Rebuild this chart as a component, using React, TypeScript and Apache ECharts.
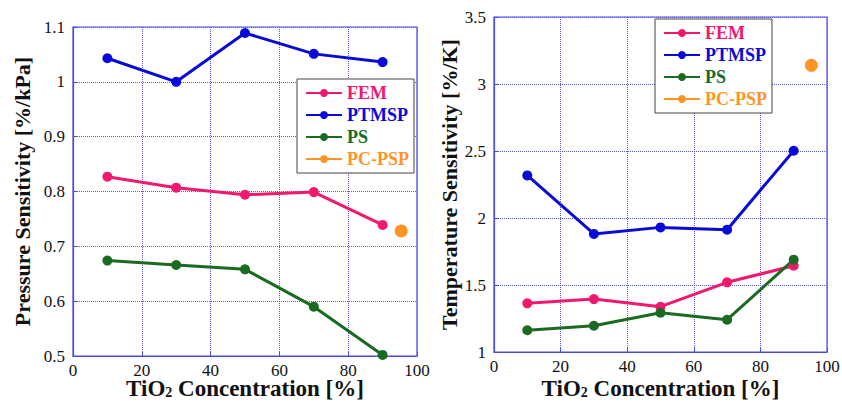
import React, { useEffect, useRef } from "react";
import * as echarts from "echarts";

const xValues = [10, 30, 50, 70, 90];
const seriesNames = ["FEM", "PTMSP", "PS", "PC-PSP"];
const seriesColors = ["#f2186e", "#0a0ad8", "#1b6a22", "#ff9426"];

const pressureFEM = [0.827, 0.807, 0.794, 0.799, 0.739];
const pressurePTMSP = [1.043, 1.0, 1.089, 1.051, 1.036];
const pressurePS = [0.674, 0.666, 0.658, 0.59, 0.502];
const pressurePCPSP: [number, number] = [95.4, 0.728];

const tempFEM = [1.363, 1.395, 1.338, 1.52, 1.644];
const tempPTMSP = [2.318, 1.881, 1.93, 1.913, 2.502];
const tempPS = [1.162, 1.196, 1.293, 1.241, 1.689];
const tempPCPSP: [number, number] = [95.3, 3.139];

const xTicks = [0, 20, 40, 60, 80, 100];

const pair = (ys: number[]) => ys.map((y, i) => [xValues[i], y]);

const App: React.FC = () => {
  const ref = useRef<HTMLDivElement>(null);
  useEffect(() => {
    document.body.style.margin = "0";
    if (!ref.current) return;
    const chart = echarts.init(ref.current, undefined, { renderer: "svg" });
    const font = "Liberation Serif";
    const frame = "#4a4ae8";
    const gridLine = { show: true, lineStyle: { color: "#5a5af0", type: "dotted" as const, width: 1 } };
    const axisLabel = { color: "#111", fontFamily: font, fontSize: 17 };
    const nameStyle = {
      color: "#111",
      fontFamily: font,
      fontSize: 23,
      fontWeight: "bold" as const,
      rich: {
        b: { fontSize: 23, lineHeight: 24, fontFamily: font, fontWeight: "bold" as const, color: "#111" },
        s: { fontSize: 14, fontFamily: font, fontWeight: "bold" as const, color: "#111", padding: [9, 0, 0, 0] },
      },
    };
    const xAxisBase = (gridIndex: number, gap: number) => ({
      type: "value" as const,
      gridIndex,
      min: 0,
      max: 100,
      interval: 20,
      name: "{b|TiO}{s|2}{b| Concentration [%]}",
      nameLocation: "middle" as const,
      nameGap: gap,
      nameMoveOverlap: false,
      nameTextStyle: nameStyle,
      axisLine: { show: true, lineStyle: { color: frame, width: 1.2 } },
      axisTick: { show: true, inside: true, length: 4, lineStyle: { color: frame } },
      axisLabel: { ...axisLabel, margin: 6, formatter: (v: number) => (xTicks.includes(v) ? String(v) : "") },
      splitLine: gridLine,
    });
    const legendData = seriesNames.map((n, i) => ({
      name: n,
      textStyle: { color: seriesColors[i], fontFamily: font, fontWeight: "bold" as const, fontSize: 18 },
    }));
    const legendBase = {
      orient: "vertical" as const,
      data: legendData,
      itemWidth: 36,
      itemHeight: 10,
      itemGap: 4,
      padding: [5, 5, 5, 8],
      borderColor: "#444",
      borderWidth: 1,
      backgroundColor: "#fff",
      selectedMode: false,
    };
    const mk = (name: string, idx: number, data: number[][], color: string, size: number) => ({
      type: "line" as const,
      name,
      xAxisIndex: idx,
      yAxisIndex: idx,
      data,
      symbol: "circle",
      symbolSize: size,
      showSymbol: true,
      lineStyle: { color, width: 3 },
      itemStyle: { color },
      z: 3,
    });
    const yName = (gridIndex: number, min: number, max: number, interval: number, name: string, gap: number) => ({
      type: "value" as const,
      gridIndex,
      min,
      max,
      interval,
      name,
      nameLocation: "middle" as const,
      nameGap: gap,
      nameTextStyle: { color: "#111", fontFamily: font, fontSize: 22, fontWeight: "bold" as const },
      axisLine: { show: true, lineStyle: { color: frame, width: 1.2 } },
      axisTick: { show: true, inside: true, length: 4, lineStyle: { color: frame } },
      axisLabel: { ...axisLabel, margin: 8 },
      splitLine: gridLine,
    });
    chart.setOption({
      animation: false,
      backgroundColor: "#fff",
      textStyle: { fontFamily: font },
      grid: [
        { left: 73, right: 425, top: 27, bottom: 50, outerBoundsMode: "none", containLabel: false, show: true, borderColor: frame, borderWidth: 1.2, backgroundColor: "transparent" },
        { left: 494, right: 15, top: 17, bottom: 54, outerBoundsMode: "none", containLabel: false, show: true, borderColor: frame, borderWidth: 1.2, backgroundColor: "transparent" },
      ],
      legend: [
        { ...legendBase, left: 297, top: 79 },
        { ...legendBase, left: 655, top: 19 },
      ],
      xAxis: [xAxisBase(0, 20), xAxisBase(1, 24)],
      yAxis: [
        yName(0, 0.5, 1.1, 0.1, "Pressure Sensitivity [%/kPa]", 40),
        yName(1, 1, 3.5, 0.5, "Temperature Sensitivity [%/K]", 34),
      ],
      series: [
        mk("FEM", 0, pair(pressureFEM), seriesColors[0], 10),
        mk("PTMSP", 0, pair(pressurePTMSP), seriesColors[1], 10),
        mk("PS", 0, pair(pressurePS), seriesColors[2], 10),
        mk("PC-PSP", 0, [pressurePCPSP], seriesColors[3], 13),
        mk("FEM", 1, pair(tempFEM), seriesColors[0], 10),
        mk("PTMSP", 1, pair(tempPTMSP), seriesColors[1], 10),
        mk("PS", 1, pair(tempPS), seriesColors[2], 10),
        mk("PC-PSP", 1, [tempPCPSP], seriesColors[3], 13),
      ],
    });
    return () => chart.dispose();
  }, []);
  return <div ref={ref} style={{ width: 842, height: 406 }} />;
};

export default App;
